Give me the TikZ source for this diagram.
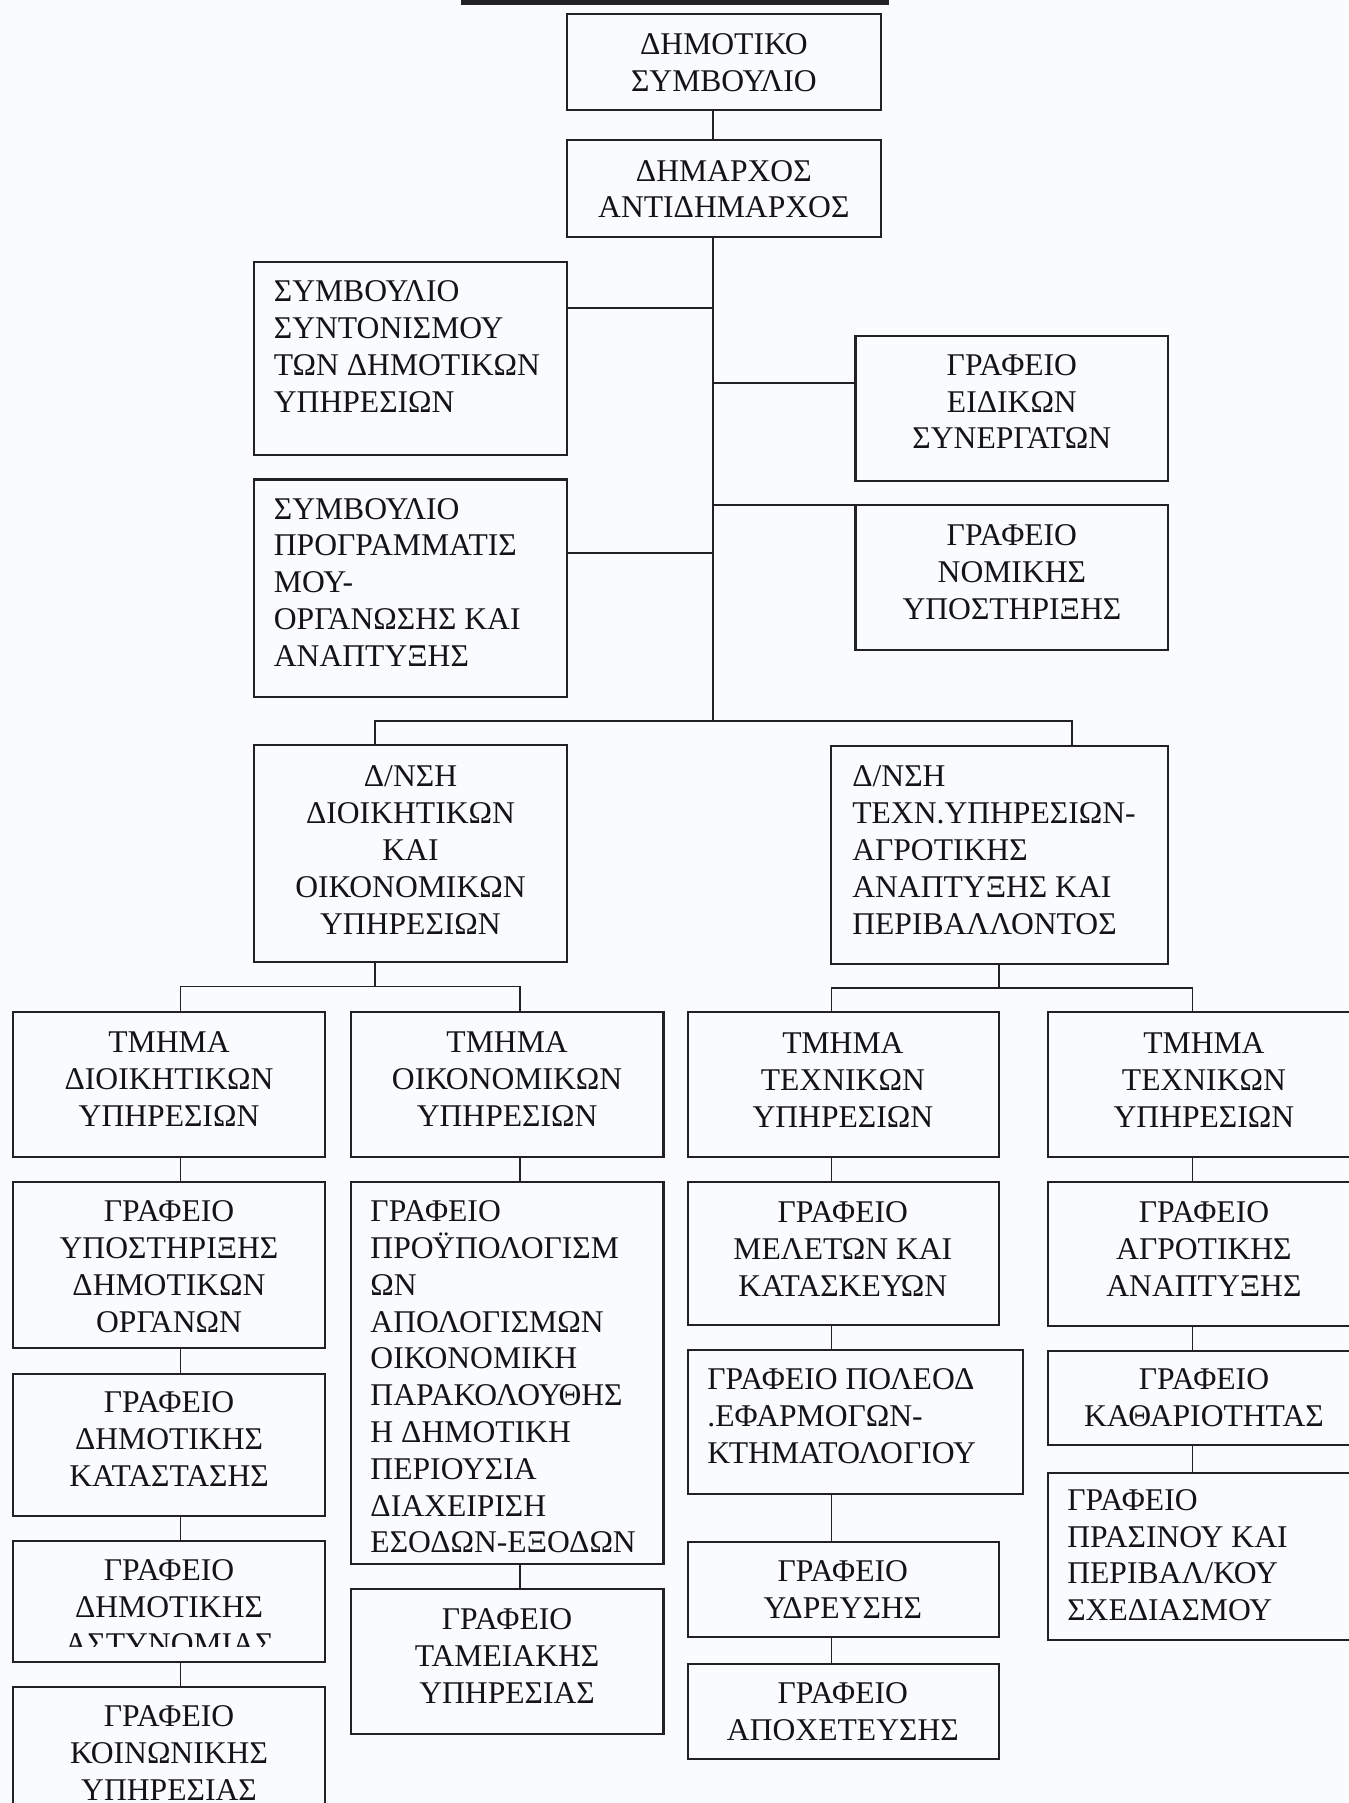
\documentclass[tikz,border=0pt]{standalone}
\usepackage{fontspec}
\setmainfont{Liberation Serif}
\usetikzlibrary{fit}
\definecolor{paper}{RGB}{250,251,253}
\definecolor{linec}{RGB}{34,34,36}
\definecolor{inkc}{RGB}{20,20,22}
\tikzset{
  orgbox/.style={draw=linec, line width=1.8pt, inner sep=0pt},
  conn/.style={draw=linec, line width=1.5pt},
  lbl/.style={font=\fontsize{27.5}{32}\selectfont, text=inkc, inner sep=0pt,
              align=center, anchor=north, execute at begin node=\strut},
  lbll/.style={lbl, align=left, anchor=north west}
}
\begin{document}
\begin{tikzpicture}[x={(1pt,0pt)}, y={(0pt,-1pt)}]
\useasboundingbox (0,0) rectangle (1173,1568);
\clip (0,0) rectangle (1173,1568);
\fill[paper] (0,0) rectangle (1173,1568);
% heading rule
\fill[linec] (401,0) rectangle (773,4.5);

% ---- boxes ----
\node[orgbox, fit={(493,12) (766,96)}] (council) {};
\node[orgbox, fit={(493,122) (766,206)}] (mayor) {};
\node[orgbox, fit={(221,228) (493,396)}] (coord) {};
\node[orgbox, fit={(744,292) (1016,418)}] (advis) {};
\node[orgbox, fit={(221,417) (493,606)}] (plan) {};
\node[orgbox, fit={(744,439) (1016,565)}] (legal) {};
\node[orgbox, fit={(221,648) (493,837)}] (diradm) {};
\node[orgbox, fit={(723,649) (1016,838)}] (dirtech) {};

\node[orgbox, fit={(11,880) (283,1006)}] (secadm) {};
\node[orgbox, fit={(305,880) (577,1006)}] (secfin) {};
\node[orgbox, fit={(598,880) (869,1006)}] (sectech) {};
\node[orgbox, fit={(911,880) (1183,1006)}] (sectechb) {};

\node[orgbox, fit={(11,1028) (283,1172)}] (offsup) {};
\node[orgbox, fit={(11,1195) (283,1318)}] (offreg) {};
\node[orgbox, fit={(11,1340) (283,1445)}] (offpol) {};
\node[orgbox, fit={(11,1467) (283,1600)}] (offsoc) {};

\node[orgbox, fit={(305,1028) (577,1360)}] (offbud) {};
\node[orgbox, fit={(305,1382) (577,1508)}] (offcash) {};

\node[orgbox, fit={(598,1028) (869,1152)}] (offstud) {};
\node[orgbox, fit={(598,1174) (890,1299)}] (offurb) {};
\node[orgbox, fit={(598,1341) (869,1424)}] (offwat) {};
\node[orgbox, fit={(598,1447) (869,1530)}] (offsew) {};

\node[orgbox, fit={(911,1028) (1183,1153)}] (offagr) {};
\node[orgbox, fit={(911,1175) (1183,1257)}] (offclean) {};
\node[orgbox, fit={(911,1281) (1183,1426)}] (offgreen) {};

% ---- labels ----
\node[lbl] (t-council) at (629.5,29) {ΔΗΜΟΤΙΚΟ\\ΣΥΜΒΟΥΛΙΟ};
\node[lbl] (t-mayor) at (629.5,139) {ΔΗΜΑΡΧΟΣ\\ΑΝΤΙΔΗΜΑΡΧΟΣ};
\node[lbll] (t-coord) at (238,244) {ΣΥΜΒΟΥΛΙΟ\\ΣΥΝΤΟΝΙΣΜΟΥ\\ΤΩΝ ΔΗΜΟΤΙΚΩΝ\\ΥΠΗΡΕΣΙΩΝ};
\node[lbl] (t-advis) at (880,308) {ΓΡΑΦΕΙΟ\\ΕΙΔΙΚΩΝ\\ΣΥΝΕΡΓΑΤΩΝ};
\node[lbll] (t-plan) at (238,433) {ΣΥΜΒΟΥΛΙΟ\\ΠΡΟΓΡΑΜΜΑΤΙΣ\\ΜΟΥ-\\ΟΡΓΑΝΩΣΗΣ ΚΑΙ\\ΑΝΑΠΤΥΞΗΣ};
\node[lbl] (t-legal) at (880,456) {ΓΡΑΦΕΙΟ\\ΝΟΜΙΚΗΣ\\ΥΠΟΣΤΗΡΙΞΗΣ};
\node[lbl] (t-diradm) at (357,666) {Δ/ΝΣΗ\\ΔΙΟΙΚΗΤΙΚΩΝ\\ΚΑΙ\\ΟΙΚΟΝΟΜΙΚΩΝ\\ΥΠΗΡΕΣΙΩΝ};
\node[lbll] (t-dirtech) at (741,666) {Δ/ΝΣΗ\\ΤΕΧΝ.ΥΠΗΡΕΣΙΩΝ-\\ΑΓΡΟΤΙΚΗΣ\\ΑΝΑΠΤΥΞΗΣ ΚΑΙ\\ΠΕΡΙΒΑΛΛΟΝΤΟΣ};

\node[lbl] (t-secadm) at (147,897) {ΤΜΗΜΑ\\ΔΙΟΙΚΗΤΙΚΩΝ\\ΥΠΗΡΕΣΙΩΝ};
\node[lbl] (t-secfin) at (441,897) {ΤΜΗΜΑ\\ΟΙΚΟΝΟΜΙΚΩΝ\\ΥΠΗΡΕΣΙΩΝ};
\node[lbl] (t-sectech) at (733,898) {ΤΜΗΜΑ\\ΤΕΧΝΙΚΩΝ\\ΥΠΗΡΕΣΙΩΝ};
\node[lbl] (t-sectechb) at (1047,898) {ΤΜΗΜΑ\\ΤΕΧΝΙΚΩΝ\\ΥΠΗΡΕΣΙΩΝ};

\node[lbl] (t-offsup) at (147,1044) {ΓΡΑΦΕΙΟ\\ΥΠΟΣΤΗΡΙΞΗΣ\\ΔΗΜΟΤΙΚΩΝ\\ΟΡΓΑΝΩΝ};
\node[lbl] (t-offreg) at (147,1210) {ΓΡΑΦΕΙΟ\\ΔΗΜΟΤΙΚΗΣ\\ΚΑΤΑΣΤΑΣΗΣ};
\begin{scope}
  % the last line of this label is cut short inside its box
  \clip (11,1330) rectangle (283,1432);
  \node[lbl] (t-offpol) at (147,1356) {ΓΡΑΦΕΙΟ\\ΔΗΜΟΤΙΚΗΣ\\ΑΣΤΥΝΟΜΙΑΣ};
\end{scope}
\node[lbl] (t-offsoc) at (147,1483) {ΓΡΑΦΕΙΟ\\ΚΟΙΝΩΝΙΚΗΣ\\ΥΠΗΡΕΣΙΑΣ};

\node[lbll] (t-offbud) at (322,1044) {ΓΡΑΦΕΙΟ\\ΠΡΟΫΠΟΛΟΓΙΣΜ\\ΩΝ\\ΑΠΟΛΟΓΙΣΜΩΝ\\ΟΙΚΟΝΟΜΙΚΗ\\ΠΑΡΑΚΟΛΟΥΘΗΣ\\Η ΔΗΜΟΤΙΚΗ\\ΠΕΡΙΟΥΣΙΑ\\ΔΙΑΧΕΙΡΙΣΗ\\ΕΣΟΔΩΝ-ΕΞΟΔΩΝ};
\node[lbl] (t-offcash) at (441,1399) {ΓΡΑΦΕΙΟ\\ΤΑΜΕΙΑΚΗΣ\\ΥΠΗΡΕΣΙΑΣ};

\node[lbl] (t-offstud) at (733,1045) {ΓΡΑΦΕΙΟ\\ΜΕΛΕΤΩΝ ΚΑΙ\\ΚΑΤΑΣΚΕΥΩΝ};
\node[lbll] (t-offurb) at (615,1190) {ΓΡΑΦΕΙΟ ΠΟΛΕΟΔ\\.ΕΦΑΡΜΟΓΩΝ-\\ΚΤΗΜΑΤΟΛΟΓΙΟΥ};
\node[lbl] (t-offwat) at (733,1357) {ΓΡΑΦΕΙΟ\\ΥΔΡΕΥΣΗΣ};
\node[lbl] (t-offsew) at (733,1463) {ΓΡΑΦΕΙΟ\\ΑΠΟΧΕΤΕΥΣΗΣ};

\node[lbl] (t-offagr) at (1047,1045) {ΓΡΑΦΕΙΟ\\ΑΓΡΟΤΙΚΗΣ\\ΑΝΑΠΤΥΞΗΣ};
\node[lbl] (t-offclean) at (1047,1190) {ΓΡΑΦΕΙΟ\\ΚΑΘΑΡΙΟΤΗΤΑΣ};
\node[lbll] (t-offgreen) at (928,1295) {ΓΡΑΦΕΙΟ\\ΠΡΑΣΙΝΟΥ ΚΑΙ\\ΠΕΡΙΒΑΛ/ΚΟΥ\\ΣΧΕΔΙΑΣΜΟΥ};

% ---- connectors ----
\coordinate (jc) at (620,268);
\coordinate (ja) at (620,333);
\coordinate (jp) at (620,481);
\coordinate (jl) at (620,439);
\coordinate (jb) at (620,627);
\coordinate (gl) at (326,627);
\coordinate (hr) at (932,627);
\coordinate (gm) at (326,858);
\coordinate (g1) at (157,858);
\coordinate (g2) at (452,858);
\coordinate (hm) at (869,859);
\coordinate (h1) at (723,859);
\coordinate (h2) at (1037,859);

\draw[conn] (council.south -| jb) -- (mayor.north -| jb);
\draw[conn] (mayor.south -| jb) -- (jb);
\draw[conn] (coord.east |- jc) -- (jc);
\draw[conn] (ja) -- (advis.west |- ja);
\draw[conn] (plan.east |- jp) -- (jp);
\draw[conn] (jl) -- (legal.west |- jl);
\draw[conn] (diradm.north -| gl) -- (gl) -- (hr) -- (dirtech.north -| hr);

\draw[conn] (diradm.south -| gm) -- (gm);
\draw[conn] (secadm.north -| g1) -- (g1) -- (g2) -- (secfin.north -| g2);
\draw[conn] (dirtech.south -| hm) -- (hm);
\draw[conn] (sectech.north -| h1) -- (h1) -- (h2) -- (sectechb.north -| h2);

\draw[conn] (secadm.south -| g1) -- (offsup.north -| g1);
\draw[conn] (offsup.south -| g1) -- (offreg.north -| g1);
\draw[conn] (offreg.south -| g1) -- (offpol.north -| g1);
\draw[conn] (offpol.south -| g1) -- (offsoc.north -| g1);

\draw[conn] (secfin.south -| g2) -- (offbud.north -| g2);
\draw[conn] (offbud.south -| g2) -- (offcash.north -| g2);

\draw[conn] (sectech.south -| h1) -- (offstud.north -| h1);
\draw[conn] (offstud.south -| h1) -- (offurb.north -| h1);
\draw[conn] (offurb.south -| h1) -- (offwat.north -| h1);
\draw[conn] (offwat.south -| h1) -- (offsew.north -| h1);

\draw[conn] (sectechb.south -| h2) -- (offagr.north -| h2);
\draw[conn] (offagr.south -| h2) -- (offclean.north -| h2);
\draw[conn] (offclean.south -| h2) -- (offgreen.north -| h2);
\end{tikzpicture}
\end{document}
